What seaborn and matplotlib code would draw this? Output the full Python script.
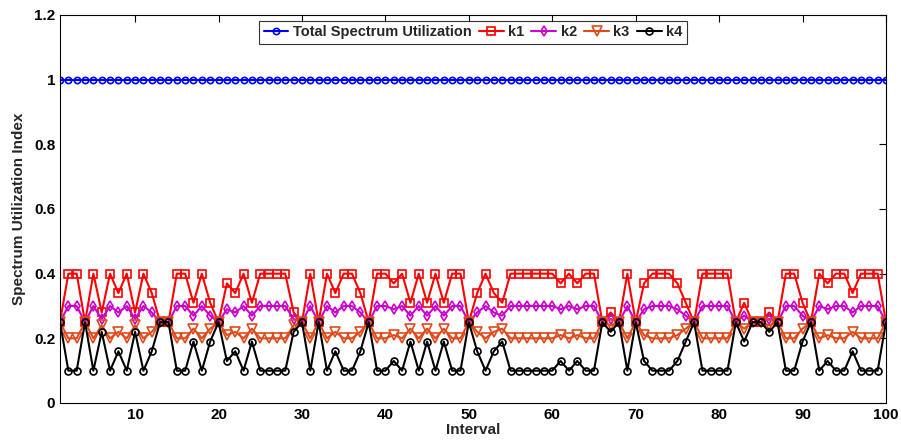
import numpy as np
import pandas as pd
import matplotlib
matplotlib.use("Agg")
import matplotlib.pyplot as plt
import seaborn as sns

intervals = list(range(1, 101))
total = [1.0] * 100

k1 = [.25, .40, .40, .25, .40, .28, .40, .34, .40, .28,
      .40, .34, .25, .25, .40, .40, .31, .40, .31, .25,
      .37, .34, .40, .31, .40, .40, .40, .40, .28, .25,
      .40, .25, .40, .34, .40, .40, .34, .25, .40, .40,
      .37, .40, .31, .40, .31, .40, .31, .40, .40, .25,
      .34, .40, .34, .31, .40, .40, .40, .40, .40, .40,
      .37, .40, .37, .40, .40, .25, .28, .25, .40, .25,
      .37, .40, .40, .40, .37, .31, .25, .40, .40, .40,
      .40, .25, .31, .25, .25, .28, .25, .40, .40, .31,
      .25, .40, .37, .40, .40, .34, .40, .40, .40, .25]

k2 = [.25, .30, .30, .25, .30, .26, .30, .28, .30, .26,
      .30, .28, .25, .25, .30, .30, .27, .30, .27, .25,
      .29, .28, .30, .27, .30, .30, .30, .30, .26, .25,
      .30, .25, .30, .28, .30, .30, .28, .25, .30, .30,
      .29, .30, .27, .30, .27, .30, .27, .30, .30, .25,
      .28, .30, .28, .27, .30, .30, .30, .30, .30, .30,
      .29, .30, .29, .30, .30, .25, .26, .25, .30, .25,
      .29, .30, .30, .30, .29, .27, .25, .30, .30, .30,
      .30, .25, .27, .25, .25, .26, .25, .30, .30, .27,
      .25, .30, .29, .30, .30, .28, .30, .30, .30, .25]

k3 = [.25, .20, .20, .25, .20, .24, .20, .22, .20, .24,
      .20, .22, .25, .25, .20, .20, .23, .20, .23, .25,
      .21, .22, .20, .23, .20, .20, .20, .20, .24, .25,
      .20, .25, .20, .22, .20, .20, .22, .25, .20, .20,
      .21, .20, .23, .20, .23, .20, .23, .20, .20, .25,
      .22, .20, .22, .23, .20, .20, .20, .20, .20, .20,
      .21, .20, .21, .20, .20, .25, .24, .25, .20, .25,
      .21, .20, .20, .20, .21, .23, .25, .20, .20, .20,
      .20, .25, .23, .25, .25, .24, .25, .20, .20, .23,
      .25, .20, .21, .20, .20, .22, .20, .20, .20, .25]

k4 = [.25, .10, .10, .25, .10, .22, .10, .16, .10, .22,
      .10, .16, .25, .25, .10, .10, .19, .10, .19, .25,
      .13, .16, .10, .19, .10, .10, .10, .10, .22, .25,
      .10, .25, .10, .16, .10, .10, .16, .25, .10, .10,
      .13, .10, .19, .10, .19, .10, .19, .10, .10, .25,
      .16, .10, .16, .19, .10, .10, .10, .10, .10, .10,
      .13, .10, .13, .10, .10, .25, .22, .25, .10, .25,
      .13, .10, .10, .10, .13, .19, .25, .10, .10, .10,
      .10, .25, .19, .25, .25, .22, .25, .10, .10, .19,
      .25, .10, .13, .10, .10, .16, .10, .10, .10, .25]

series_names = ["Total Spectrum Utilization", "k1", "k2", "k3", "k4"]
series_values = [total, k1, k2, k3, k4]
colors = ["#0000FF", "#FF0000", "#CC00CC", "#E04A1A", "#000000"]
markers = ["o", "s", "d", "v", "o"]
msizes = [4.5, 6, 5, 6.5, 5]

sns.set_style("white")
plt.rcParams["font.family"] = ["Liberation Sans", "DejaVu Sans"]
plt.rcParams["font.weight"] = "bold"

fig = plt.figure(figsize=(9.01, 4.43), dpi=100)
ax = fig.add_axes([60 / 901, 1 - 403 / 443, (886 - 60) / 901, (403 - 15) / 443])

for name, vals, c, m, ms in zip(series_names, series_values, colors, markers, msizes):
    df = pd.DataFrame({"Interval": intervals, "value": vals})
    sns.lineplot(data=df, x="Interval", y="value", ax=ax, color=c, marker=m,
                 markersize=ms, markerfacecolor="none", markeredgecolor=c,
                 markeredgewidth=1.2, linewidth=1.5, label=name)

ax.set_xlim(1, 100)
ax.set_ylim(0, 1.2)
ax.set_xticks([10, 20, 30, 40, 50, 60, 70, 80, 90, 100])
ax.set_yticks([0, 0.2, 0.4, 0.6, 0.8, 1.0, 1.2])
ax.set_yticklabels(["0", "0.2", "0.4", "0.6", "0.8", "1", "1.2"])
ax.tick_params(direction="in", length=5, width=0.8, top=True, right=True,
               labelsize=11, colors="black")
for lab in ax.get_xticklabels() + ax.get_yticklabels():
    lab.set_fontweight("bold")
for sp in ax.spines.values():
    sp.set_visible(True)
    sp.set_color("black")
    sp.set_linewidth(0.8)

ax.set_xlabel("Interval", fontsize=11, fontweight="bold", labelpad=1)
ax.set_ylabel("Spectrum Utilization Index", fontsize=11, fontweight="bold", labelpad=6)

leg = ax.legend(loc="upper center", bbox_to_anchor=(0.5, 0.985), ncol=5,
                frameon=True, fancybox=False, handlelength=1.7,
                columnspacing=0.5, handletextpad=0.3, borderpad=0.3,
                borderaxespad=0.0,
                prop={"weight": "bold", "size": 10.5})
leg.get_frame().set_edgecolor("black")
leg.get_frame().set_linewidth(0.8)

fig.savefig("out.png", dpi=100)
